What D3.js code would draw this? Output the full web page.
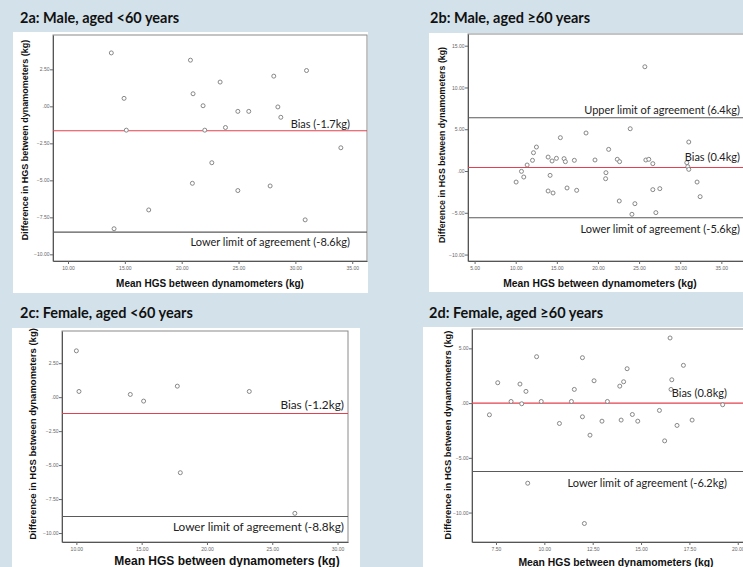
<!DOCTYPE html>
<html>
<head>
<meta charset="utf-8">
<script src="https://cdn.jsdelivr.net/npm/d3@7/dist/d3.min.js"></script>
<style>
  body { margin: 0; background: #d3e2ea; }
  svg { display: block; }
</style>
</head>
<body>
<svg id="chart" width="743" height="567"></svg>
<script>
// 2a: male, aged <60
const maleYoungMean = [13.81, 14.93, 15.13, 14.05, 17.10, 20.77, 21.00, 21.88, 22.03, 23.38, 23.85, 22.65,
  20.94, 24.94, 25.90, 24.94, 28.10, 28.46, 28.72, 27.78, 30.98, 30.86, 34.00];
const maleYoungDiff = [3.61, 0.54, -1.61, -8.27, -7.00, 3.12, 0.85, 0.04, -1.61, 1.64, -1.43, -3.81,
  -5.20, -0.34, -0.34, -5.69, 2.04, -0.04, -0.74, -5.38, 2.42, -7.67, -2.80];

// 2b: male, aged >=60
const maleOldMean = [25.70, 23.92, 18.55, 15.43, 12.52, 12.16, 12.04, 11.39, 10.70, 10.98, 10.05, 13.94,
  14.42, 14.95, 15.88, 16.04, 17.13, 19.64, 21.30, 22.35, 22.63, 25.82, 26.18, 26.67, 31.04, 30.80,
  30.92, 31.04, 14.18, 13.94, 14.54, 16.24, 17.41, 20.97, 20.93, 22.59, 24.49, 24.13, 26.67, 27.52,
  27.04, 32.05, 32.42];
const maleOldDiff = [12.48, 5.06, 4.55, 3.99, 2.87, 2.19, 1.28, 0.72, -0.04, -0.72, -1.32, 1.67,
  1.20, 1.52, 1.48, 1.12, 1.28, 1.32, 2.59, 1.40, 1.12, 1.32, 1.40, 0.88, 3.47, 1.00,
  0.52, 0.20, -0.52, -2.39, -2.63, -2.03, -2.31, -0.20, -0.92, -3.59, -3.91, -5.18, -2.23, -2.11,
  -4.98, -1.32, -3.07];

// 2c: female, aged <60
const femaleYoungMean = [10.00, 10.20, 14.13, 15.15, 17.73, 17.96, 23.24, 26.73];
const femaleYoungDiff = [3.41, 0.42, 0.20, -0.29, 0.81, -5.56, 0.42, -8.55];

// 2d: female, aged >=60
const femaleOldMean = [7.16, 7.59, 8.28, 8.74, 8.83, 9.05, 9.14, 9.60, 9.84, 10.78, 11.40, 11.55,
  11.97, 11.97, 12.07, 12.36, 12.57, 12.98, 13.26, 13.90, 13.97, 14.10, 14.28, 14.55, 14.83,
  15.95, 16.22, 16.50, 16.55, 16.59, 16.86, 17.19, 17.64, 19.22];
const femaleOldDiff = [-1.07, 1.86, 0.15, 1.74, -0.06, 1.07, -7.32, 4.24, 0.15, -1.86, 0.15, 1.25,
  4.15, -1.25, -11.0, -2.93, 2.04, -1.65, 0.15, 1.55, -1.55, 1.95, 3.14, -1.04, -1.65,
  -0.67, -3.45, 5.95, 1.25, 2.13, -2.04, 3.45, -1.55, -0.15];

const panelTitles = ['2a: Male, aged <60 years', '2b: Male, aged \u226560 years',
  '2c: Female, aged <60 years', '2d: Female, aged \u226560 years'];
const biasValues = [-1.65, 0.42, -1.2, 0.0];
const biasLabels = ['Bias (-1.7kg)', 'Bias (0.4kg)', 'Bias (-1.2kg)', 'Bias (0.8kg)'];
const lowerValues = [-8.5, -5.6, -8.78, -6.25];
const lowerLabels = ['Lower limit of agreement (-8.6kg)', 'Lower limit of agreement (-5.6kg)',
  'Lower limit of agreement (-8.8kg)', 'Lower limit of agreement (-6.2kg)'];
const upperValues = [null, 6.38, null, null];
const upperLabels = [null, 'Upper limit of agreement (6.4kg)', null, null];
const xTicks = [[10, 15, 20, 25, 30, 35], [5, 10, 15, 20, 25, 30, 35], [10, 15, 20, 25, 30], [7.5, 10, 12.5, 15, 17.5, 20]];
const yTicks = [[-10, -7.5, -5, -2.5, 0, 2.5], [-10, -5, 0, 5, 10, 15], [-10, -7.5, -5, -2.5, 0, 2.5], [-10, -5, 0, 5]];

const yTitleText = 'Difference in HGS between dynamometers (kg)';
const xTitleText = 'Mean HGS between dynamometers (kg)';

// layout for each panel
const layout = [
  { box: [13, 32, 368, 293], l: 53, r: 367, t: 35, b: 261, xd: [8.68, 36.3], yd: [-10.45, 4.82],
    title: [20, 18], yt: [25, 140, 9], xt: [210, 283, 10], labEnd: 350, labSize: 11,
    biasDy: -7, lowDy: 10, upDy: -8 },
  { box: [429, 33, 760, 292], l: 468, r: 760, t: 34, b: 261, xd: [4.2, 39.7], yd: [-10.77, 16.4],
    title: [430, 18], yt: [442, 145, 8.8], xt: [600, 283, 10.3], labEnd: 740, labSize: 11,
    biasDy: -10, lowDy: 11.5, upDy: -8 },
  { box: [12, 328, 360, 567], l: 62, r: 348, t: 331, b: 542, xd: [8.9, 30.8], yd: [-10.66, 4.87],
    title: [20, 313], yt: [33, 434, 9.5], xt: [227, 561, 12], labEnd: 344, labSize: 11.8,
    biasDy: -9, lowDy: 10.5, upDy: -8 },
  { box: [423, 327, 760, 567], l: 472, r: 760, t: 329, b: 542, xd: [6.26, 21.15], yd: [-12.69, 6.77],
    title: [429, 313], yt: [448, 435, 9.4], xt: [616, 562, 10.4], labEnd: 727, labSize: 11,
    biasDy: -10, lowDy: 11.5, upDy: -8 }
];

const meanSeries = [maleYoungMean, maleOldMean, femaleYoungMean, femaleOldMean];
const diffSeries = [maleYoungDiff, maleOldDiff, femaleYoungDiff, femaleOldDiff];

const svg = d3.select('#chart');
svg.append('rect').attr('width', 743).attr('height', 567).attr('fill', '#d3e2ea');

const fmt = v => d3.format('.2f')(v).replace(/^(-?)0\./, '$1.');

layout.forEach((p, i) => {
  const g = svg.append('g');

  // white panel
  g.append('rect')
    .attr('x', p.box[0]).attr('y', p.box[1])
    .attr('width', p.box[2] - p.box[0]).attr('height', p.box[3] - p.box[1])
    .attr('fill', '#fff');

  // panel title
  svg.append('text')
    .attr('x', p.title[0]).attr('y', p.title[1])
    .attr('dy', '0.35em')
    .style('font-family', 'Lato, "Open Sans", sans-serif')
    .style('font-weight', 'bold')
    .style('font-size', '14.5px')
    .style('fill', '#111')
    .text(panelTitles[i]);

  const x = d3.scaleLinear().domain(p.xd).range([p.l, p.r]);
  const y = d3.scaleLinear().domain(p.yd).range([p.b, p.t]);

  // frame
  g.append('rect')
    .attr('x', p.l).attr('y', p.t)
    .attr('width', p.r - p.l).attr('height', p.b - p.t)
    .attr('fill', 'none')
    .attr('stroke', '#8a8a8a')
    .attr('stroke-width', 1);

  const yAxis = g.append('g')
    .attr('transform', `translate(${p.l},0)`)
    .call(d3.axisLeft(y).tickValues(yTicks[i]).tickSize(3).tickSizeOuter(0).tickFormat(fmt));
  const xAxis = g.append('g')
    .attr('transform', `translate(0,${p.b})`)
    .call(d3.axisBottom(x).tickValues(xTicks[i]).tickSize(3).tickSizeOuter(0).tickFormat(fmt));

  [xAxis, yAxis].forEach(ax => {
    ax.select('.domain').attr('stroke', '#555');
    ax.selectAll('.tick line').attr('stroke', '#666');
    ax.selectAll('.tick text')
      .style('font-family', '"Liberation Sans", Arial, sans-serif')
      .style('font-size', '5px')
      .style('fill', '#666');
  });
  yAxis.selectAll('.tick text').attr('x', -3.5);
  xAxis.selectAll('.tick text').attr('y', 5);

  // limit lines
  const lines = [
    { v: biasValues[i], label: biasLabels[i], color: '#e5404e', dy: p.biasDy },
    { v: lowerValues[i], label: lowerLabels[i], color: '#5a5a5a', dy: p.lowDy },
    { v: upperValues[i], label: upperLabels[i], color: '#5a5a5a', dy: p.upDy }
  ].filter(d => d.v !== null);

  g.selectAll('.ref')
    .data(lines)
    .enter()
    .append('line')
    .attr('x1', p.l).attr('x2', p.r)
    .attr('y1', d => y(d.v)).attr('y2', d => y(d.v))
    .attr('stroke', d => d.color)
    .attr('stroke-width', 1.1);

  // points
  const pts = meanSeries[i].map((m, k) => [m, diffSeries[i][k]]);
  g.selectAll('.pt')
    .data(pts)
    .enter()
    .append('circle')
    .attr('cx', d => x(d[0]))
    .attr('cy', d => y(d[1]))
    .attr('r', 2)
    .attr('fill', '#fff')
    .attr('stroke', '#7a7a7a')
    .attr('stroke-width', 0.9);

  g.selectAll('.reflabel')
    .data(lines)
    .enter()
    .append('text')
    .attr('x', p.labEnd)
    .attr('y', d => y(d.v) + d.dy)
    .attr('dy', '0.35em')
    .attr('text-anchor', 'end')
    .style('font-family', 'Lato, "Open Sans", sans-serif')
    .style('font-size', p.labSize + 'px')
    .style('fill', '#222')
    .text(d => d.label);

  // axis titles
  g.append('text')
    .attr('transform', `translate(${p.yt[0]},${p.yt[1]}) rotate(-90)`)
    .attr('text-anchor', 'middle')
    .attr('dy', '0.35em')
    .style('font-family', '"Liberation Sans", Arial, sans-serif')
    .style('font-weight', 'bold')
    .style('font-size', p.yt[2] + 'px')
    .style('fill', '#111')
    .text(yTitleText);

  g.append('text')
    .attr('x', p.xt[0]).attr('y', p.xt[1])
    .attr('text-anchor', 'middle')
    .attr('dy', '0.35em')
    .style('font-family', '"Liberation Sans", Arial, sans-serif')
    .style('font-weight', 'bold')
    .style('font-size', p.xt[2] + 'px')
    .style('fill', '#111')
    .text(xTitleText);
});
</script>
</body>
</html>
